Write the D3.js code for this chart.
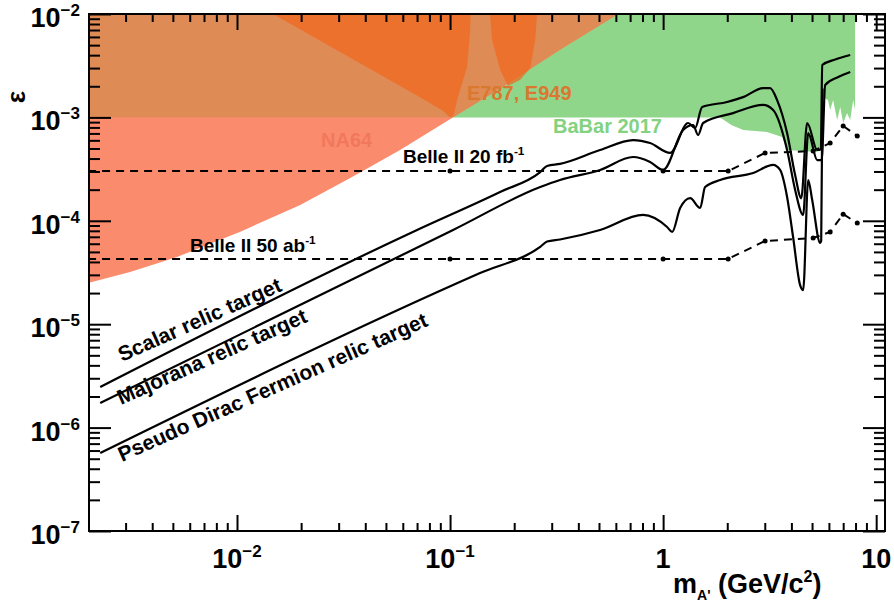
<!DOCTYPE html>
<html>
<head>
<meta charset="utf-8">
<script src="https://cdn.jsdelivr.net/npm/d3@7"></script>
<style>
  body { margin: 0; background: #fff; }
  text { font-family: "Liberation Sans", Arial, Helvetica, sans-serif; font-weight: bold; }
</style>
</head>
<body>
<div id="chart"></div>
<script>
// Canvas and plot frame
const width = 894;
const height = 612;
const frame = { left: 89, right: 885, top: 14, bottom: 531 };

// ---- Data: [mass (GeV), epsilon] ----
// NA64 excluded region (lower boundary)
const na64Bound = [[0.002, 2.5e-5], [0.00315, 3.2e-5], [0.00523, 4.47e-5], [0.0103, 7.8e-5],
  [0.0198, 1.42e-4], [0.034, 2.6e-4], [0.058, 4.8e-4], [0.103, 1.0e-3], [0.172, 1.9e-3],
  [0.328, 4.5e-3], [0.615, 1e-2]];
// E787/E949 excluded lobes
const e787Lobe1 = [[0.01476, 1e-2], [0.0723, 1.57e-3], [0.093, 1.15e-3], [0.1, 1.0e-3],
  [0.104, 1.05e-3], [0.1079, 1.47e-3], [0.1202, 3.07e-3], [0.124, 6.55e-3], [0.125, 1e-2]];
const e787Lobe2 = [[0.154, 1e-2], [0.1575, 5.6e-3], [0.172, 2.87e-3], [0.187, 2.01e-3],
  [0.213, 2.3e-3], [0.238, 3.0e-3], [0.251, 5.6e-3], [0.256, 1e-2]];
// BaBar 2017 excluded region (lower boundary)
const babarBound = [[0.02, 1e-3], [1.85, 1e-3], [2.1, 8.4e-4], [2.38, 7.55e-4], [3.07, 7.22e-4],
  [3.62, 6.46e-4], [3.82, 4.84e-4], [5.28, 4.63e-4], [5.55, 5.17e-4], [5.63, 1.57e-3],
  [5.94, 1.47e-3], [6.08, 1.18e-3], [6.28, 1.47e-3], [6.56, 9.44e-4], [6.78, 1.26e-3],
  [7.0, 8.83e-4], [7.3, 1.1e-3], [7.55, 9.44e-4], [7.8, 1.47e-3], [7.96, 1.18e-3]];
// Belle II projections
const belle20 = [[0.002, 3.03e-4], [0.1, 3.03e-4], [1, 3.03e-4], [2.02, 3.03e-4], [3.01, 4.53e-4],
  [5.06, 4.73e-4], [6.08, 5.65e-4], [7.0, 8.26e-4], [8.15, 6.61e-4]];
const belle50 = [[0.002, 4.28e-5], [0.1, 4.28e-5], [1, 4.28e-5], [2.02, 4.28e-5], [3.01, 6.38e-5],
  [5.06, 6.82e-5], [6.08, 7.8e-5], [7.0, 1.16e-4], [8.15, 9.5e-5]];
// Relic targets
const scalarRelic = [[0.00228, 2.47e-6], [0.07, 8.15e-5], [0.1717, 1.9e-4], [0.2649, 2.96e-4],
  [0.2853, 3.39e-4], [0.3281, 3.55e-4], [0.5058, 4.84e-4], [0.7228, 6.04e-4], [0.8686, 5.65e-4],
  [1.079, 4.53e-4], [1.31, 8.83e-4], [1.413, 7.89e-4], [1.525, 1.26e-3], [1.997, 1.41e-3],
  [2.374, 1.57e-3], [2.946, 1.92e-3], [3.178, 1.92e-3], [3.428, 1.47e-3], [3.818, 7.06e-4],
  [4.165, 2.77e-4], [4.45, 1.65e-4], [4.743, 8.83e-4], [5.287, 4.84e-4], [5.5, 4.9e-4],
  [5.58, 3.21e-3], [6.423, 3.63e-3], [7.553, 4.01e-3]];
const majoranaRelic = [[0.00228, 1.73e-6], [0.1033, 8.15e-5], [0.2649, 2.12e-4], [0.3281, 2.48e-4],
  [0.5058, 3.1e-4], [0.7228, 4.14e-4], [0.8686, 3.71e-4], [1.0, 3.1e-4], [1.241, 7.55e-4],
  [1.383, 8.44e-4], [1.459, 6.76e-4], [1.541, 8.83e-4], [2.131, 1.1e-3], [2.946, 1.32e-3],
  [3.284, 1.18e-3], [3.818, 4.84e-4], [4.165, 1.99e-4], [4.543, 1.14e-4], [4.797, 7.06e-4],
  [5.287, 3.87e-4], [5.55, 3.87e-4], [5.764, 2.06e-3], [6.633, 2.46e-3], [7.553, 2.75e-3]];
const diracRelic = [[0.00228, 5.68e-7], [0.1383, 3.13e-5], [0.2649, 5.6e-5], [0.2853, 6.3e-5],
  [0.3281, 6.6e-5], [0.5058, 8.15e-5], [0.8054, 1.14e-4], [1.044, 8.71e-5], [1.103, 7.8e-5],
  [1.202, 1.33e-4], [1.339, 1.66e-4], [1.492, 1.33e-4], [1.574, 2.12e-4], [1.852, 2.48e-4],
  [2.647, 2.9e-4], [3.284, 3.47e-4], [3.54, 3.1e-4], [3.818, 1.7e-4], [4.074, 6.97e-5],
  [4.395, 2.39e-5], [4.543, 2.14e-5], [4.797, 2.48e-4], [5.008, 1.59e-4], [5.462, 6.1e-5],
  [5.52, 6.4e-5], [5.6, 1.9e-3]];

// Axis ticks and labels
const xMajor = [0.01, 0.1, 1, 10];
const xTickLabels = [["10", "\u22122"], ["10", "\u22121"], ["1", ""], ["10", ""]];
const yMajor = [1e-2, 1e-3, 1e-4, 1e-5, 1e-6, 1e-7];
const yTickLabels = [["10", "\u22122"], ["10", "\u22123"], ["10", "\u22124"], ["10", "\u22125"], ["10", "\u22126"], ["10", "\u22127"]];

// Scales
const x = d3.scaleLog().domain([0.00202, 11]).range([frame.left, frame.right]);
const y = d3.scaleLog().domain([1e-7, 1e-2]).range([frame.bottom, frame.top]);

const svg = d3.select("#chart").append("svg")
  .attr("width", width)
  .attr("height", height);

svg.append("defs").append("clipPath").attr("id", "plot-clip")
  .append("rect")
  .attr("x", frame.left).attr("y", frame.top)
  .attr("width", frame.right - frame.left).attr("height", frame.bottom - frame.top);

const plot = svg.append("g").attr("clip-path", "url(#plot-clip)");

// region above a boundary
const upperArea = d3.area()
  .x(d => x(d[0]))
  .y0(frame.top - 5)
  .y1(d => y(d[1]));

// BaBar 2017
plot.append("path").datum(babarBound)
  .attr("d", upperArea)
  .attr("fill", "#8fd68b");

// NA64 (salmon), upper part tan above 1e-3
plot.append("path").datum(na64Bound)
  .attr("d", upperArea)
  .attr("fill", "#fb8b6d");

svg.select("defs").append("clipPath").attr("id", "na64-clip")
  .append("path").datum(na64Bound).attr("d", upperArea);

plot.append("g").attr("clip-path", "url(#na64-clip)")
  .append("rect")
  .attr("x", frame.left).attr("y", frame.top - 5)
  .attr("width", frame.right - frame.left)
  .attr("height", y(1e-3) - frame.top + 5)
  .attr("fill", "#df8b55");

// E787, E949 lobes
const lobeLine = d3.line().x(d => x(d[0])).y(d => y(d[1])).curve(d3.curveLinearClosed);
[e787Lobe1, e787Lobe2].forEach(lobe => {
  plot.append("path").datum(lobe)
    .attr("d", lobeLine)
    .attr("fill", "#f0661e")
    .attr("fill-opacity", 0.72);
});

// Belle II dashed projections
const dashLine = d3.line().x(d => x(d[0])).y(d => y(d[1]));
[belle20, belle50].forEach(series => {
  plot.append("path").datum(series)
    .attr("d", dashLine)
    .attr("fill", "none")
    .attr("stroke", "#000")
    .attr("stroke-width", 2)
    .attr("stroke-dasharray", "8,6");
  plot.selectAll(null).data(series.slice(1)).enter()
    .append("circle")
    .attr("cx", d => x(d[0]))
    .attr("cy", d => y(d[1]))
    .attr("r", 2.5)
    .attr("fill", "#000");
});

// Relic target curves
const relicLine = d3.line().x(d => x(d[0])).y(d => y(d[1])).curve(d3.curveMonotoneX);
[scalarRelic, majoranaRelic, diracRelic].forEach(series => {
  plot.append("path").datum(series)
    .attr("d", relicLine)
    .attr("fill", "none")
    .attr("stroke", "#000")
    .attr("stroke-width", 2.2);
});

// Region labels
const labels = svg.append("g");
labels.append("text").attr("x", 321).attr("y", 147).attr("font-size", 20)
  .attr("fill", "#f2785c").text("NA64");
labels.append("text").attr("x", 467).attr("y", 100).attr("font-size", 20)
  .attr("fill", "#d9782f").text("E787, E949");
labels.append("text").attr("x", 553).attr("y", 133).attr("font-size", 20)
  .attr("fill", "#84d281").text("BaBar 2017");

function supLabel(g, px, py, main, sup, size) {
  const t = g.append("text").attr("x", px).attr("y", py).attr("font-size", size).attr("fill", "#000");
  t.append("tspan").text(main);
  t.append("tspan").attr("dy", -8).attr("font-size", size * 0.62).text(sup);
  return t;
}
supLabel(labels, 403, 163, "Belle II 20 fb", "-1", 19);
supLabel(labels, 190, 252, "Belle II 50 ab", "-1", 19);

const relicLabels = [
  ["Scalar relic target", 122, 362],
  ["Majorana relic target", 121, 405],
  ["Pseudo Dirac Fermion relic target", 122, 462]
];
relicLabels.forEach(([txt, px, py]) => {
  labels.append("text")
    .attr("transform", `translate(${px},${py}) rotate(-24)`)
    .attr("font-size", 21)
    .attr("fill", "#000")
    .text(txt);
});

// Axes: ticks pointing inward on all four sides
const xMinor = x.ticks().filter(v => !xMajor.some(m => Math.abs(m - v) / m < 1e-6));
const yMinor = y.ticks().filter(v => !yMajor.some(m => Math.abs(m - v) / m < 1e-6));

function tickAxis(axisFn, scale, values, size, transform) {
  const g = svg.append("g")
    .attr("transform", transform)
    .call(axisFn(scale).tickValues(values).tickSize(size).tickSizeOuter(0).tickFormat(""));
  g.select(".domain").remove();
  g.selectAll(".tick line").attr("stroke", "#000").attr("stroke-width", 2);
}
tickAxis(d3.axisBottom, x, xMajor, -16, `translate(0,${frame.bottom})`);
tickAxis(d3.axisBottom, x, xMinor, -8, `translate(0,${frame.bottom})`);
tickAxis(d3.axisTop, x, xMajor, -16, `translate(0,${frame.top})`);
tickAxis(d3.axisTop, x, xMinor, -8, `translate(0,${frame.top})`);
tickAxis(d3.axisLeft, y, yMajor, -22, `translate(${frame.left},0)`);
tickAxis(d3.axisLeft, y, yMinor, -11, `translate(${frame.left},0)`);
tickAxis(d3.axisRight, y, yMajor, -22, `translate(${frame.right},0)`);
tickAxis(d3.axisRight, y, yMinor, -11, `translate(${frame.right},0)`);

svg.append("rect")
  .attr("x", frame.left).attr("y", frame.top)
  .attr("width", frame.right - frame.left).attr("height", frame.bottom - frame.top)
  .attr("fill", "none").attr("stroke", "#000").attr("stroke-width", 2);

// Tick labels
xMajor.forEach((v, i) => {
  const t = svg.append("text")
    .attr("x", x(v)).attr("y", 568)
    .attr("text-anchor", "middle")
    .attr("font-size", 27);
  t.append("tspan").text(xTickLabels[i][0]);
  if (xTickLabels[i][1]) t.append("tspan").attr("dy", -11).attr("font-size", 17).text(xTickLabels[i][1]);
});
yMajor.forEach((v, i) => {
  const t = svg.append("text")
    .attr("x", 80).attr("y", y(v) + 13)
    .attr("text-anchor", "end")
    .attr("font-size", 27);
  t.append("tspan").text(yTickLabels[i][0]);
  t.append("tspan").attr("dy", -11).attr("font-size", 17).text(yTickLabels[i][1]);
});

// Axis titles
const xt = svg.append("text").attr("x", 673).attr("y", 593).attr("font-size", 27);
xt.append("tspan").text("m");
xt.append("tspan").attr("dy", 7).attr("font-size", 14).text("A'");
xt.append("tspan").attr("dy", -7).text(" (GeV/c");
xt.append("tspan").attr("dy", -11).attr("font-size", 16).text("2");
xt.append("tspan").attr("dy", 11).text(")");

svg.append("text")
  .attr("transform", "translate(25,97) rotate(-90)")
  .attr("text-anchor", "middle")
  .attr("font-size", 26)
  .attr("font-weight", "normal")
  .text("\u03b5");
</script>
</body>
</html>
